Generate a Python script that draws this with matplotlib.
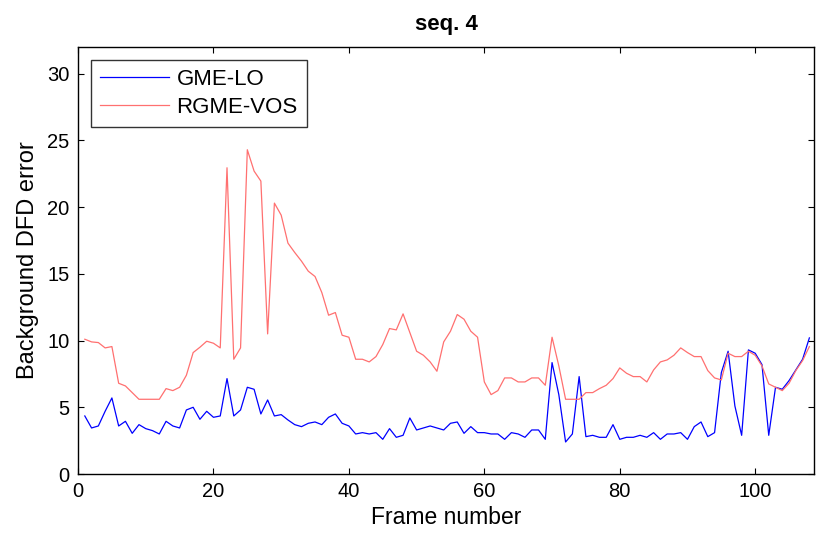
import numpy as np
import matplotlib
matplotlib.use('Agg')
import matplotlib.pyplot as plt

# frames 1..108
frames = np.arange(1, 109)

gme_lo = [4.35, 3.45, 3.6, 4.7, 5.7, 3.6, 3.95, 3.05, 3.7, 3.4,
          3.25, 3.0, 3.95, 3.6, 3.45, 4.8, 5.0, 4.1, 4.7, 4.25,
          4.35, 7.15, 4.35, 4.8, 6.5, 6.35, 4.5, 5.55, 4.35, 4.45,
          4.05, 3.7, 3.55, 3.8, 3.9, 3.7, 4.25, 4.5, 3.8, 3.6,
          3.0, 3.1, 3.0, 3.1, 2.6, 3.4, 2.75, 2.9, 4.2, 3.3,
          3.45, 3.6, 3.45, 3.3, 3.8, 3.9, 3.05, 3.55, 3.1, 3.1,
          3.0, 3.0, 2.6, 3.1, 3.0, 2.75, 3.3, 3.3, 2.6, 8.35,
          5.95, 2.4, 3.0, 7.3, 2.8, 2.9, 2.75, 2.75, 3.7, 2.6,
          2.75, 2.75, 2.9, 2.75, 3.1, 2.6, 3.0, 3.0, 3.1, 2.6,
          3.55, 3.9, 2.8, 3.1, 7.6, 9.2, 5.1, 2.9, 9.3, 9.05,
          8.2, 2.9, 6.5, 6.35, 7.0, 7.8, 8.6, 10.2]

rgme_vos = [10.1, 9.9, 9.85, 9.45, 9.55, 6.8, 6.6, 6.1, 5.6, 5.6,
            5.6, 5.6, 6.4, 6.25, 6.5, 7.4, 9.1, 9.5, 9.95, 9.8,
            9.45, 22.95, 8.6, 9.45, 24.3, 22.7, 21.95, 10.5, 20.3, 19.4,
            17.3, 16.6, 15.95, 15.2, 14.8, 13.6, 11.9, 12.1, 10.4, 10.25,
            8.6, 8.6, 8.4, 8.8, 9.7, 10.9, 10.8, 12.0, 10.6, 9.2,
            8.9, 8.4, 7.7, 9.9, 10.7, 11.95, 11.6, 10.7, 10.25, 6.9,
            5.95, 6.25, 7.2, 7.2, 6.9, 6.9, 7.2, 7.2, 6.65, 10.25,
            8.1, 5.6, 5.6, 5.6, 6.1, 6.1, 6.4, 6.65, 7.15, 7.95,
            7.55, 7.3, 7.3, 6.9, 7.8, 8.4, 8.55, 8.9, 9.45, 9.1,
            8.8, 8.8, 7.75, 7.2, 7.05, 9.05, 8.8, 8.8, 9.2, 8.9,
            8.1, 6.75, 6.5, 6.25, 6.8, 7.75, 8.5, 9.55]

plt.rcParams['font.family'] = ['Liberation Sans', 'DejaVu Sans']

fig = plt.figure(figsize=(8.24, 5.37), dpi=100)
ax = fig.add_axes([0.0947, 0.1173, 0.8933, 0.7952])

ax.plot(frames, gme_lo, color='#0000ff', lw=0.9, label='GME-LO')
ax.plot(frames, rgme_vos, color='#ff7070', lw=0.9, label='RGME-VOS')

ax.set_xlim(0, 108.7)
ax.set_ylim(0, 32)
ax.set_xticks([0, 20, 40, 60, 80, 100])
ax.set_yticks([0, 5, 10, 15, 20, 25, 30])
ax.tick_params(direction='in', length=4, width=0.8, top=True, right=True,
               labelsize=14.5, pad=6)
for s in ax.spines.values():
    s.set_linewidth(1.0)

ax.set_xlabel('Frame number', fontsize=16.5, labelpad=3)
ax.set_ylabel('Background DFD error', fontsize=17, labelpad=6)
ax.set_title('seq. 4', fontsize=16, fontweight='bold', pad=12)

leg = ax.legend(loc='upper left', bbox_to_anchor=(0.0177, 0.969), fontsize=16,
                frameon=True, fancybox=False, edgecolor='black',
                handlelength=3.1, handletextpad=0.35, borderpad=0.4,
                labelspacing=0.3, borderaxespad=0)
leg.get_frame().set_linewidth(1.0)

fig.savefig('out.png', dpi=100)
